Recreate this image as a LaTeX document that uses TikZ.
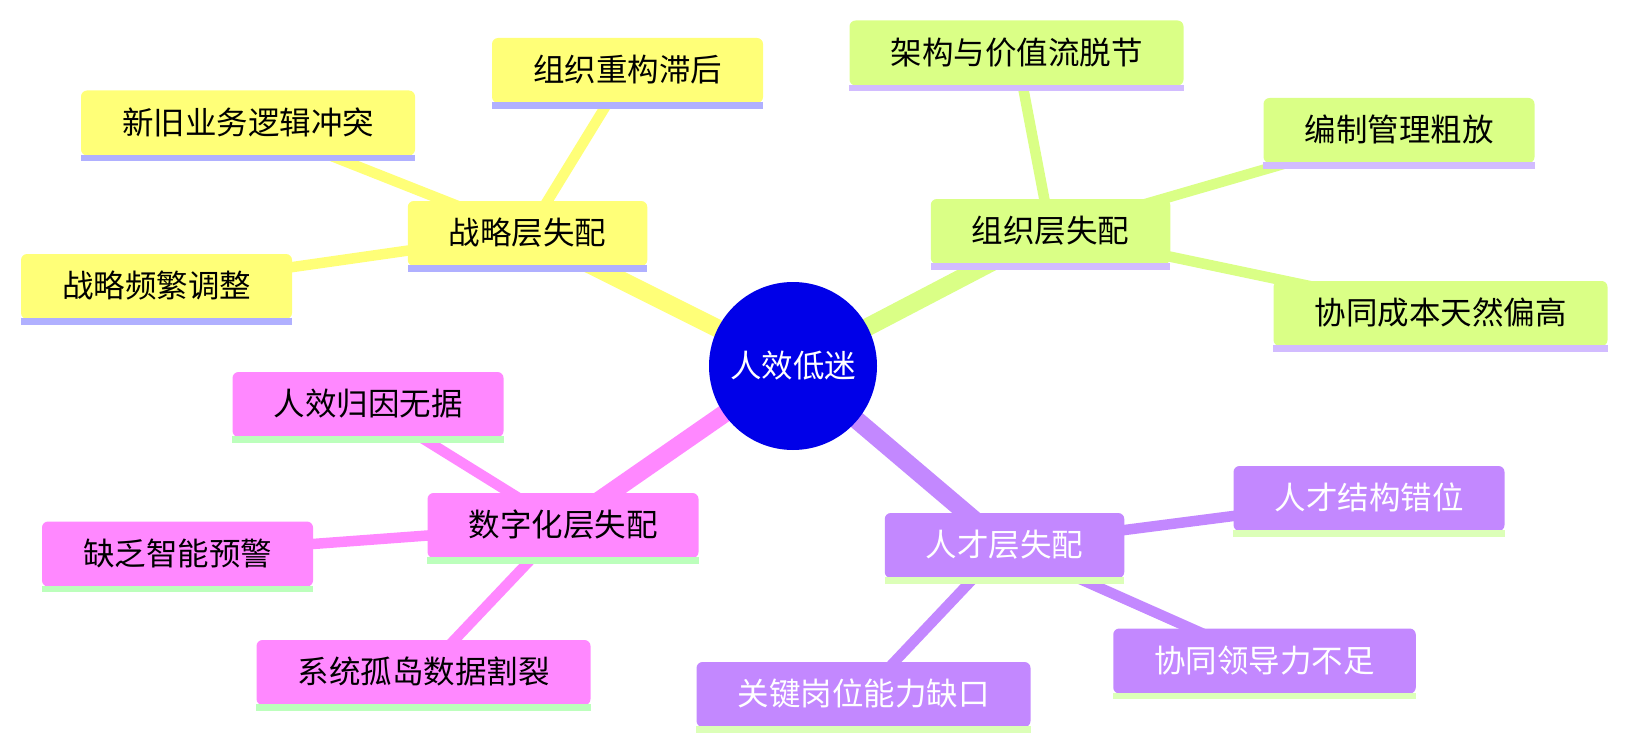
\documentclass[tikz,border=0pt]{standalone}
\usepackage{fontspec}
\setmainfont{Noto Sans CJK SC}
\usetikzlibrary{backgrounds}
\definecolor{cRoot}{HTML}{0000E8}
\definecolor{cY}{HTML}{FFFF78}
\definecolor{cYu}{HTML}{B0B0FF}
\definecolor{cG}{HTML}{DAFF86}
\definecolor{cGu}{HTML}{D2BCFF}
\definecolor{cP}{HTML}{C388FF}
\definecolor{cPu}{HTML}{DCFFB8}
\definecolor{cM}{HTML}{FF88FF}
\definecolor{cMu}{HTML}{BCFFBC}
\newcommand\boxline[2]{\fill[#2] ([yshift=1pt]#1.south west) rectangle ([yshift=-5.5pt]#1.south east);}
\begin{document}
\begin{tikzpicture}[x=1pt,y=-1pt,
  txt/.style={font=\fontsize{31.5pt}{38pt}\selectfont},
  box/.style={txt,rectangle,rounded corners=6pt,minimum height=65pt,inner xsep=41pt,inner ysep=0pt,text height=26.5pt,text depth=3.8pt},
  ybox/.style={box,fill=cY,text=black},
  gbox/.style={box,fill=cG,text=black},
  pbox/.style={box,fill=cP,text=white},
  mbox/.style={box,fill=cM,text=black},
  rootnode/.style={txt,circle,fill=cRoot,text=white,minimum size=168pt,inner sep=0pt},
  mainedge/.style={line width=18pt},
  subedge/.style={line width=10.5pt},
]
\useasboundingbox (0,0) rectangle (1627,749);
\node[rootnode] (R) at (793,366) {人效低迷};
% strategy
\node[ybox] (S) at (527.5,233.5) {战略层失配};
\node[ybox] (S1) at (627.5,70.5) {组织重构滞后};
\node[ybox] (S2) at (248,123) {新旧业务逻辑冲突};
\node[ybox] (S3) at (156.5,286.5) {战略频繁调整};
% organisation
\node[gbox] (O) at (1050.5,231.5) {组织层失配};
\node[gbox] (O1) at (1016.5,53) {架构与价值流脱节};
\node[gbox] (O2) at (1399,130.5) {编制管理粗放};
\node[gbox] (O3) at (1440.5,313.5) {协同成本天然偏高};
% digital
\node[mbox] (D) at (563,525.5) {数字化层失配};
\node[mbox] (D1) at (368,404.5) {人效归因无据};
\node[mbox] (D2) at (177.5,554) {缺乏智能预警};
\node[mbox] (D3) at (423.5,672.5) {系统孤岛数据割裂};
% talent
\node[pbox] (T) at (1004.5,545.5) {人才层失配};
\node[pbox] (T1) at (1369,498.5) {人才结构错位};
\node[pbox] (T2) at (1264.5,661) {协同领导力不足};
\node[pbox] (T3) at (863.5,694.5) {关键岗位能力缺口};
\boxline{S}{cYu}\boxline{S1}{cYu}\boxline{S2}{cYu}\boxline{S3}{cYu}
\boxline{O}{cGu}\boxline{O1}{cGu}\boxline{O2}{cGu}\boxline{O3}{cGu}
\boxline{D}{cMu}\boxline{D1}{cMu}\boxline{D2}{cMu}\boxline{D3}{cMu}
\boxline{T}{cPu}\boxline{T1}{cPu}\boxline{T2}{cPu}\boxline{T3}{cPu}
\begin{pgfonlayer}{background}
\draw[mainedge,cY] (R.center) -- (S.center);
\draw[mainedge,cG] (R.center) -- (O.center);
\draw[mainedge,cM] (R.center) -- (D.center);
\draw[mainedge,cP] (R.center) -- (T.center);
\foreach \c in {S1,S2,S3} \draw[subedge,cY] (S.center) -- (\c.center);
\foreach \c in {O1,O2,O3} \draw[subedge,cG] (O.center) -- (\c.center);
\foreach \c in {D1,D2,D3} \draw[subedge,cM] (D.center) -- (\c.center);
\foreach \c in {T1,T2,T3} \draw[subedge,cP] (T.center) -- (\c.center);
\end{pgfonlayer}
\end{tikzpicture}
\end{document}
